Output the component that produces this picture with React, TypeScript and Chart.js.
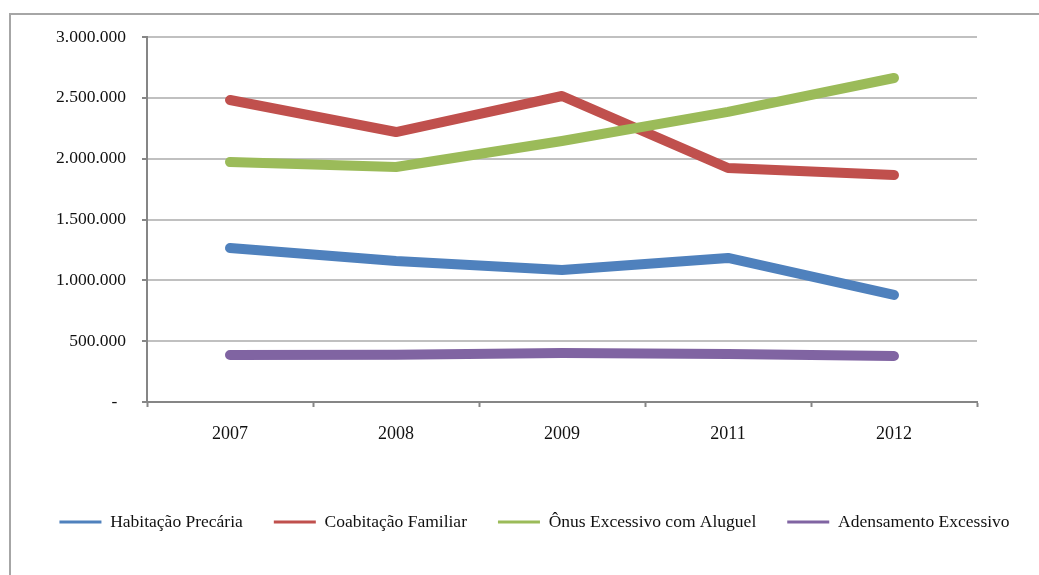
import React, { useEffect, useRef } from "react";
import { Chart, registerables } from "chart.js";

Chart.register(...registerables);

const years = ["2007", "2008", "2009", "2011", "2012"];
const habitacaoPrecaria = [1265000, 1159000, 1085000, 1184000, 880000];
const coabitacaoFamiliar = [2482000, 2219000, 2515000, 1923000, 1866000];
const onusExcessivo = [1973000, 1932000, 2145000, 2384000, 2663000];
const adensamentoExcessivo = [386000, 388000, 403000, 395000, 378000];

const seriesNames = [
  "Habitação Precária",
  "Coabitação Familiar",
  "Ônus Excessivo com Aluguel",
  "Adensamento Excessivo",
];
const seriesColors = ["#4F81BD", "#C0504D", "#9BBB59", "#8064A2"];

const yMin = 0;
const yMax = 3000000;
const yStep = 500000;

const fmt = (v: number) =>
  v === 0 ? "-  " : String(Math.round(v)).replace(/\B(?=(\d{3})+(?!\d))/g, ".");

const framePlugin = {
  id: "frame",
  beforeDraw(chart: any) {
    const ctx = chart.ctx;
    ctx.save();
    ctx.strokeStyle = "#a6a6a6";
    ctx.lineWidth = 2;
    ctx.beginPath();
    ctx.moveTo(10, 575);
    ctx.lineTo(10, 14);
    ctx.lineTo(1039, 14);
    ctx.stroke();
    ctx.restore();
  },
};

const legendShift = {
  id: "legendShift",
  afterLayout(chart: any) {
    if (chart.legend) {
      chart.legend.left += 15;
      chart.legend.right += 15;
    }
  },
};

export default function App() {
  const ref = useRef<HTMLCanvasElement>(null);
  useEffect(() => {
    if (!ref.current) return;
    const data = [habitacaoPrecaria, coabitacaoFamiliar, onusExcessivo, adensamentoExcessivo];
    const chart = new Chart(ref.current, {
      type: "line",
      data: {
        labels: years,
        datasets: data.map((d, i) => ({
          label: seriesNames[i],
          data: d,
          borderColor: seriesColors[i],
          backgroundColor: seriesColors[i],
          borderWidth: 10,
          borderCapStyle: "round",
          borderJoinStyle: "round",
          pointRadius: 0,
          tension: 0,
          fill: false,
          order: 3 - i,
          yAxisID: "y",
        })),
      },
      options: {
        responsive: false,
        animation: false,
        layout: { padding: { left: 0, right: 0, top: 37, bottom: 34.25 } },
        plugins: {
          tooltip: { enabled: false },
          legend: {
            position: "bottom",
            labels: {
              boxWidth: 42,
              boxHeight: 3,
              padding: 31,
              color: "#111",
              font: { family: "Liberation Serif", size: 17.5 },
              sort: (a: any, b: any) => a.datasetIndex - b.datasetIndex,
              generateLabels: (c: any) =>
                Chart.defaults.plugins.legend.labels
                  .generateLabels(c)
                  .map((l: any) => ({ ...l, lineWidth: 0 })),
            },
          },
        },
        scales: {
          x: {
            type: "category",
            offset: true,
            grid: {
              offset: true,
              drawOnChartArea: false,
              drawTicks: true,
              tickLength: 5,
              tickColor: "#868686",
              tickWidth: 2,
            },
            border: { color: "#868686", width: 2 },
            ticks: {
              color: "#111",
              padding: 16,
              font: { family: "Liberation Serif", size: 18 },
              maxRotation: 0,
            },
            afterFit: (s: any) => {
              s.height = 80.25;
            },
          },
          y: {
            min: yMin,
            max: yMax,
            ticks: {
              stepSize: yStep,
              color: "#111",
              padding: 16,
              font: { family: "Liberation Serif", size: 17.5 },
              callback: (v: any) => fmt(Number(v)),
            },
            grid: {
              color: "#c0c0c0",
              lineWidth: 2,
              tickLength: 5,
              tickColor: "#868686",
              tickWidth: 2,
            },
            border: { color: "#868686", width: 2 },
            afterFit: (s: any) => {
              s.width = 147;
            },
          },
          rightSpace: {
            type: "linear",
            position: "right",
            display: true,
            grid: { display: false, drawTicks: false },
            border: { display: false },
            ticks: { display: false },
            afterFit: (s: any) => {
              s.width = 62;
            },
          },
        },
      },
      plugins: [framePlugin, legendShift],
    } as any);
    return () => chart.destroy();
  }, []);
  return (
    <div style={{ position: "absolute", left: 0, top: 0, width: 1039, height: 575, background: "#fff" }}>
      <canvas ref={ref} width={1039} height={575} />
    </div>
  );
}
